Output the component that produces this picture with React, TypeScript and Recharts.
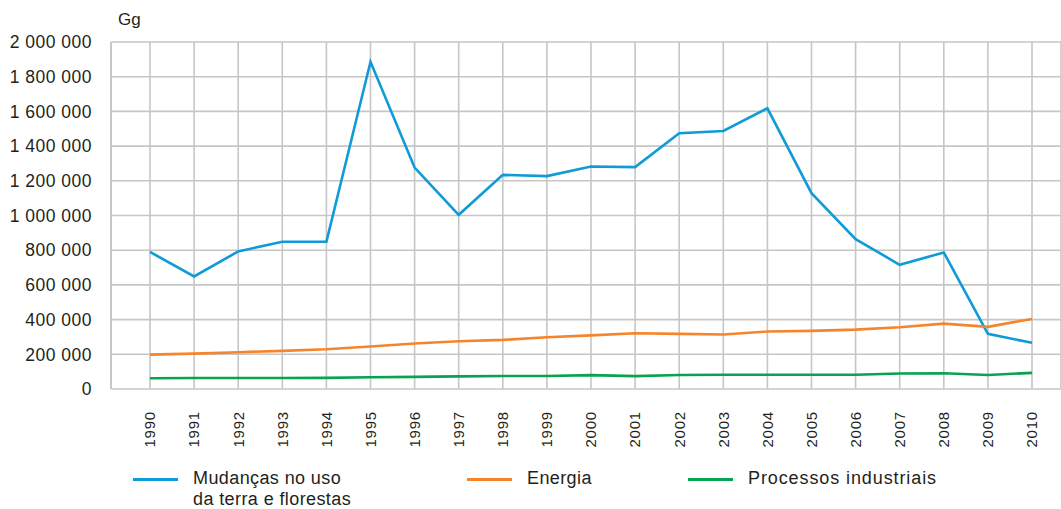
import React from 'react'
import { LineChart, Line, XAxis, YAxis, CartesianGrid } from 'recharts'

const years = [
  '1990', '1991', '1992', '1993', '1994', '1995', '1996', '1997', '1998', '1999', '2000',
  '2001', '2002', '2003', '2004', '2005', '2006', '2007', '2008', '2009', '2010'
]

// Gg
const mudancas = [
  790000, 649000, 793000, 849000, 849000, 1886000, 1276000, 1004000, 1234000, 1227000, 1282000,
  1279000, 1474000, 1487000, 1618000, 1129000, 864000, 716000, 787000, 318000, 266000
]
const energia = [
  198000, 204000, 212000, 220000, 229000, 245000, 262000, 275000, 283000, 298000, 309000,
  321000, 318000, 314000, 331000, 335000, 342000, 356000, 377000, 358000, 404000
]
const processos = [
  62000, 63000, 63000, 63000, 64000, 68000, 70000, 73000, 75000, 75000, 80000,
  74000, 81000, 82000, 82000, 82000, 82000, 89000, 91000, 81000, 93000
]

const yTicks = [0, 200000, 400000, 600000, 800000, 1000000, 1200000, 1400000, 1600000, 1800000, 2000000]

const series = [
  { key: 'mudancas', name: ['Mudanças no uso', 'da terra e florestas'], color: '#0f9ad8' },
  { key: 'energia', name: ['Energia'], color: '#f5842b' },
  { key: 'processos', name: ['Processos industriais'], color: '#07a350' }
]

const data = years.map((year, i) => ({
  year,
  mudancas: mudancas[i],
  energia: energia[i],
  processos: processos[i]
}))

const font = '"Liberation Sans", Arial, sans-serif'
const textColor = '#231f20'

const formatNumber = (v: number) =>
  String(v).replace(/\B(?=(\d{3})+(?!\d))/g, ' ')

const YearTick = (props: any) => {
  const { x, y, payload } = props
  return (
    <text
      x={x}
      y={y + 14}
      transform={`rotate(-90, ${x}, ${y + 14})`}
      textAnchor="end"
      dy="0.36em"
      fontSize={15}
      letterSpacing={0.8}
      fontFamily={font}
      fill={textColor}
    >
      {payload.value}
    </text>
  )
}

const legendPos = [133, 467, 688]

export default function App() {
  return (
    <div style={{ position: 'absolute', left: 0, top: 0, width: 1061, height: 509, fontFamily: font }}>
      <div style={{ position: 'absolute', left: 118, top: 10, fontSize: 17, color: textColor }}>Gg</div>
      <LineChart
        width={1061}
        height={509}
        data={data}
        margin={{ top: 42, right: 0, bottom: 0, left: 0 }}
      >
        <CartesianGrid stroke="#c6c6c6" strokeWidth={1.6} />
        <XAxis
          dataKey="year"
          height={120}
          padding={{ left: 39, right: 29 }}
          axisLine={false}
          tickLine={false}
          interval={0}
          tick={<YearTick />}
        />
        <YAxis
          width={111}
          domain={[0, 2000000]}
          ticks={yTicks}
          tickFormatter={formatNumber}
          axisLine={{ stroke: '#c6c6c6', strokeWidth: 1.6 }}
          tickLine={false}
          tickMargin={13}
          tick={{ fontSize: 17.5, fill: textColor, fontFamily: font, letterSpacing: 0.5 }}
        />
        {series.map((s) => (
          <Line
            key={s.key}
            dataKey={s.key}
            stroke={s.color}
            strokeWidth={2.6}
            dot={false}
            activeDot={false}
            strokeLinejoin="miter"
            isAnimationActive={false}
          />
        ))}
      </LineChart>
      {series.map((s, i) => (
        <div key={s.key} style={{ position: 'absolute', left: legendPos[i], top: 468 }}>
          <div style={{ position: 'absolute', left: 0, top: 10, width: 45, height: 3, background: s.color }} />
          <div
            style={{
              position: 'absolute',
              left: 60,
              top: 0,
              fontSize: 18,
              lineHeight: '21px',
              letterSpacing: i === 2 ? 0.9 : 0.4,
              color: textColor,
              whiteSpace: 'nowrap'
            }}
          >
            {s.name.map((n) => (
              <div key={n}>{n}</div>
            ))}
          </div>
        </div>
      ))}
    </div>
  )
}
